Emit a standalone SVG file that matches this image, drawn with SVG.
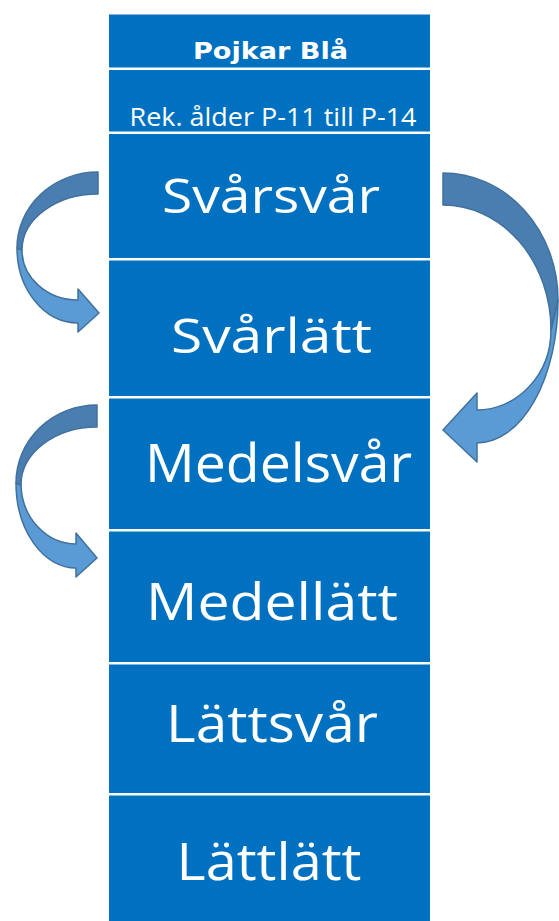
<svg xmlns="http://www.w3.org/2000/svg" width="559" height="921" viewBox="0 0 559 921">
<style>
.cell{fill:#0070C0}
.t{fill:#FFFFFF;font-family:"Open Sans","Liberation Sans",sans-serif}
.dark{fill:#4A7EB1;stroke:#41719C;stroke-width:1.5;stroke-linejoin:round}
.light{fill:#5B9BD5;stroke:#41719C;stroke-width:1.5;stroke-linejoin:round}
</style>
<rect width="559" height="921" fill="#FFFFFF"/>
<g id="row-pojkar"><rect class="cell" x="109" y="14.5" width="321" height="53"/><text class="t" x="193" y="58.5" font-size="23" font-weight="bold" style="font-family:'DejaVu Sans','Open Sans',sans-serif" textLength="155" lengthAdjust="spacingAndGlyphs">Pojkar Blå</text></g>
<g id="row-rek"><rect class="cell" x="109" y="70" width="321" height="61.5"/><text class="t" x="129.5" y="126" font-size="25" textLength="287" lengthAdjust="spacingAndGlyphs">Rek. ålder P-11 till P-14</text></g>
<g id="row-svarsvar"><rect class="cell" x="109" y="134" width="321" height="124"/><text class="t" x="162" y="212.7" font-size="48" textLength="218" lengthAdjust="spacingAndGlyphs">Svårsvår</text></g>
<g id="row-svarlatt"><rect class="cell" x="109" y="260.5" width="321" height="135.5"/><text class="t" x="171" y="353" font-size="48" textLength="201" lengthAdjust="spacingAndGlyphs">Svårlätt</text></g>
<g id="row-medelsvar"><rect class="cell" x="109" y="398.5" width="321" height="130.5"/><text class="t" x="145" y="481.7" font-size="53.6" textLength="267" lengthAdjust="spacingAndGlyphs">Medelsvår</text></g>
<g id="row-medellatt"><rect class="cell" x="109" y="531.5" width="321" height="130.5"/><text class="t" x="146" y="620" font-size="52" textLength="252" lengthAdjust="spacingAndGlyphs">Medellätt</text></g>
<g id="row-lattsvar"><rect class="cell" x="109" y="664.5" width="321" height="128.5"/><text class="t" x="166" y="742" font-size="51" textLength="212" lengthAdjust="spacingAndGlyphs">Lättsvår</text></g>
<g id="row-lattlatt"><rect class="cell" x="109" y="795.5" width="321" height="125.5"/><text class="t" x="176.5" y="880" font-size="51.4" textLength="185" lengthAdjust="spacingAndGlyphs">Lättlätt</text></g>
<g id="connectors">
  <g id="arrow-left-1">
    <path class="light" d="M 17 248 A 61 75 0 0 0 78 323 L 78 332 L 99 313 L 78 289 L 78 300 A 56 50 0 0 1 22 250 Z"/>
    <path class="dark" d="M 98 172 A 81 76 0 0 0 17 248 L 22 250 A 76 56 0 0 1 98 194 Z"/>
  </g>
  <g id="arrow-left-2">
    <path class="light" d="M 16 483 A 60 85 0 0 0 76 568 L 76 577 L 97 558 L 76 533 L 76 544 A 55 61 0 0 1 21 485 Z"/>
    <path class="dark" d="M 97 405 A 81 78 0 0 0 16 483 L 21 485 A 76 58 0 0 1 97 427 Z"/>
  </g>
  <g id="arrow-right">
    <path class="light" d="M 558 300 A 81 143 0 0 1 477 443 L 477 462 L 443 430 L 477 393 L 477 410 A 74 80 0 0 0 551 330 Z"/>
    <path class="dark" d="M 443 173 A 115 127 0 0 1 558 300 L 551 330 A 108 125 0 0 0 443 205 Z"/>
  </g>
</g>
</svg>
